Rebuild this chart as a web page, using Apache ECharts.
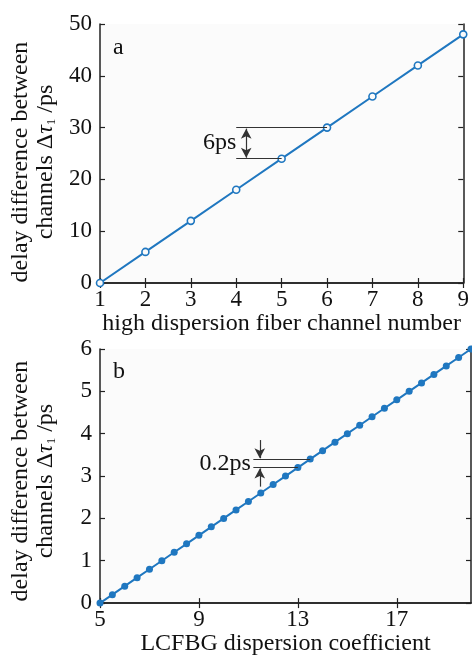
<!DOCTYPE html>
<html>
<head>
<meta charset="utf-8">
<script src="https://cdn.jsdelivr.net/npm/echarts@6/dist/echarts.min.js"></script>
<style>
  html, body { margin: 0; padding: 0; background: #fff; }
  #main { width: 472px; height: 657px; }
</style>
</head>
<body>
<div id="main"></div>
<script>
// panel a: channel number vs delay
const channelNo = [1, 2, 3, 4, 5, 6, 7, 8, 9];
const delayA = [0, 6, 12, 18, 24, 30, 36, 42, 48];
// panel b: LCFBG dispersion coefficient vs delay
const dispCoef = [5, 5.5, 6, 6.5, 7, 7.5, 8, 8.5, 9, 9.5, 10, 10.5, 11, 11.5, 12, 12.5,
  13, 13.5, 14, 14.5, 15, 15.5, 16, 16.5, 17, 17.5, 18, 18.5, 19, 19.5, 20];
const delayB = [0, 0.2, 0.4, 0.6, 0.8, 1.0, 1.2, 1.4, 1.6, 1.8, 2.0, 2.2, 2.4, 2.6, 2.8, 3.0,
  3.2, 3.4, 3.6, 3.8, 4.0, 4.2, 4.4, 4.6, 4.8, 5.0, 5.2, 5.4, 5.6, 5.8, 6.0];
const xTicksB = [5, 9, 13, 17];

const blue = "#1f77c0";
const frame = "#222";
const font = "'Liberation Serif', 'Times New Roman', serif";

const main = document.getElementById("main");
const myChart = echarts.init(main);

const yName = "delay difference between\nchannels Δ{i|τ}{sub|1} /ps";
const nameRich = {
  i: { fontFamily: font, fontSize: 24, fontStyle: "italic", color: "#111" },
  sub: { fontFamily: font, fontSize: 13, color: "#111", verticalAlign: "bottom", padding: [12, 0, 0, 0] }
};

function boxAxis(base) {
  return Object.assign({
    axisLine: { show: true, lineStyle: { color: frame, width: 1.5 } },
    axisTick: { show: true, inside: true, length: 5, lineStyle: { color: frame, width: 1.2 } },
    splitLine: { show: false }
  }, base);
}

function mainAxisLabel(m) {
  return { color: "#111", fontFamily: font, fontSize: 23, margin: m };
}

const option = {
  backgroundColor: "#fff",
  animation: false,
  grid: [
    { left: 99, right: 1, top: 24, height: 259, backgroundColor: "#fbfbfb", show: true, borderWidth: 0 },
    { left: 99, right: 1, top: 349, height: 256, backgroundColor: "#fbfbfb", show: true, borderWidth: 0 }
  ],
  xAxis: [
    boxAxis({
      gridIndex: 0, type: "value", min: 1, max: 9, interval: 1,
      axisLabel: mainAxisLabel(5),
      name: "high dispersion fiber channel number",
      nameLocation: "middle", nameGap: 25,
      nameTextStyle: { color: "#111", fontFamily: font, fontSize: 24 }
    }),
    boxAxis({
      gridIndex: 0, type: "value", min: 1, max: 9, interval: 1, position: "top",
      axisLabel: { show: false }
    }),
    boxAxis({
      gridIndex: 1, type: "value", min: 5, max: 20,
      axisLabel: Object.assign(mainAxisLabel(5), { customValues: xTicksB }),
      axisTick: { show: true, inside: true, length: 5, customValues: xTicksB, lineStyle: { color: frame, width: 1.2 } },
      name: "LCFBG dispersion coefficient",
      nameLocation: "middle", nameGap: 24,
      nameTextStyle: { color: "#111", fontFamily: font, fontSize: 24 }
    }),
    boxAxis({
      gridIndex: 1, type: "value", min: 5, max: 20, position: "top",
      axisLabel: { show: false },
      axisTick: { show: true, inside: true, length: 5, customValues: xTicksB, lineStyle: { color: frame, width: 1.2 } }
    })
  ],
  yAxis: [
    boxAxis({
      gridIndex: 0, type: "value", min: 0, max: 50, interval: 10,
      axisLabel: mainAxisLabel(8),
      name: yName, nameLocation: "middle", nameGap: 42, nameRotate: 90,
      nameTextStyle: { color: "#111", fontFamily: font, fontSize: 24, lineHeight: 25, rich: nameRich, padding: [0, 17, 0, 0] }
    }),
    boxAxis({
      gridIndex: 0, type: "value", min: 0, max: 50, interval: 10, position: "right",
      axisLabel: { show: false }
    }),
    boxAxis({
      gridIndex: 1, type: "value", min: 0, max: 6, interval: 1,
      axisLabel: mainAxisLabel(8),
      name: yName, nameLocation: "middle", nameGap: 42, nameRotate: 90,
      nameTextStyle: { color: "#111", fontFamily: font, fontSize: 24, lineHeight: 25, rich: nameRich, padding: [0, 10, 0, 0] }
    }),
    boxAxis({
      gridIndex: 1, type: "value", min: 0, max: 6, interval: 1, position: "right",
      axisLabel: { show: false }
    })
  ],
  graphic: [
    { type: "text", left: 113, top: 36, style: { text: "a", fill: "#111", font: "24px " + font } },
    { type: "text", left: 113, top: 360, style: { text: "b", fill: "#111", font: "24px " + font } }
  ],
  series: [
    {
      type: "line", xAxisIndex: 0, yAxisIndex: 0,
      data: channelNo.map((x, i) => [x, delayA[i]]),
      symbol: "circle", symbolSize: 7, showAllSymbol: true,
      itemStyle: { color: "#fbfbfb", borderColor: blue, borderWidth: 1.6 },
      lineStyle: { color: blue, width: 2 },
      markLine: {
        silent: true, symbol: "none",
        lineStyle: { color: "#333", width: 1.2, type: "solid" },
        label: { show: false },
        data: [
          [{ coord: [4, 30] }, { coord: [6, 30] }],
          [{ coord: [4, 24] }, { coord: [5, 24] }],
          [{ coord: [4.22, 24.2], symbol: "arrow", symbolSize: [8, 10] }, { coord: [4.22, 29.8], symbol: "arrow", symbolSize: [8, 10] }]
        ]
      },
      markPoint: {
        silent: true, symbol: "circle", symbolSize: 0,
        data: [{ coord: [4, 27], label: { show: true, position: "left", distance: 0, formatter: "6ps", color: "#111", fontFamily: font, fontSize: 24 } }]
      }
    },
    {
      type: "line", xAxisIndex: 2, yAxisIndex: 2,
      data: dispCoef.map((x, i) => [x, delayB[i]]),
      symbol: "circle", symbolSize: 7, showAllSymbol: true,
      itemStyle: { color: blue, borderColor: blue, borderWidth: 0 },
      lineStyle: { color: blue, width: 2 },
      markLine: {
        silent: true, symbol: "none",
        lineStyle: { color: "#333", width: 1.2, type: "solid" },
        label: { show: false },
        data: [
          [{ coord: [11.2, 3.4] }, { coord: [13.5, 3.4] }],
          [{ coord: [11.2, 3.2] }, { coord: [13, 3.2] }],
          [{ coord: [11.46, 3.85], symbol: "none" }, { coord: [11.46, 3.42], symbol: "arrow", symbolSize: [8, 10] }],
          [{ coord: [11.46, 2.75], symbol: "none" }, { coord: [11.46, 3.18], symbol: "arrow", symbolSize: [8, 10] }]
        ]
      },
      markPoint: {
        silent: true, symbol: "circle", symbolSize: 0,
        data: [{ coord: [11.1, 3.3], label: { show: true, position: "left", distance: 0, formatter: "0.2ps", color: "#111", fontFamily: font, fontSize: 24 } }]
      }
    }
  ]
};

option && myChart.setOption(option);
</script>
</body>
</html>
